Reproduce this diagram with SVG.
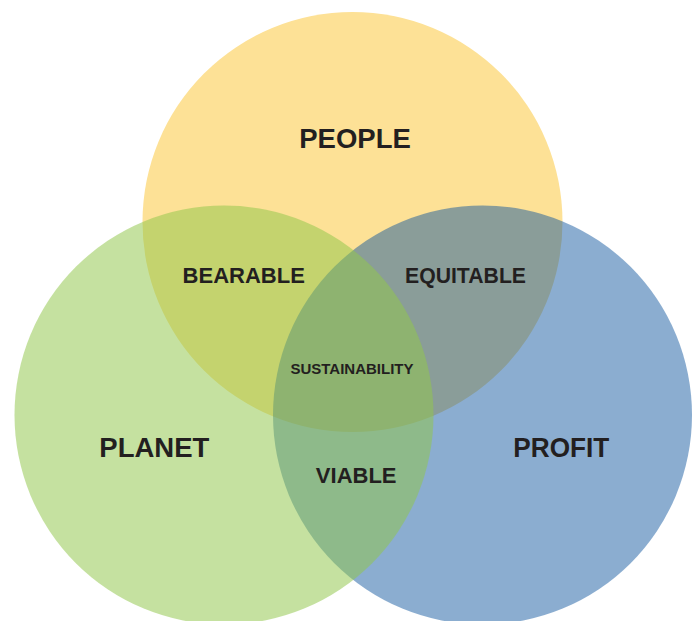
<svg xmlns="http://www.w3.org/2000/svg" width="699" height="621" viewBox="0 0 699 621">
<style>
text{font-family:"Liberation Sans",Arial,sans-serif;font-weight:bold;fill:#231f20;text-anchor:middle}
.big{font-size:27.5px}
.mid{font-size:22px}
.small{font-size:15px}
</style>
<rect width="699" height="621" fill="#ffffff"/>
<g id="people"><circle cx="352.5" cy="222" r="210" fill="#fde196"/></g>
<g id="profit"><circle cx="482.5" cy="415" r="209.5" fill="#0d549d" fill-opacity="0.48"/></g>
<g id="planet"><circle cx="224" cy="415" r="209.5" fill="#91c64b" fill-opacity="0.53"/></g>
<g id="connectors"></g>
<g id="labels">
<text class="big" x="355" y="148.3">PEOPLE</text>
<text class="big" x="154.3" y="457.3">PLANET</text>
<text class="big" x="561.3" y="457.3" textLength="96" lengthAdjust="spacingAndGlyphs">PROFIT</text>
<text class="mid" x="243.7" y="283.3">BEARABLE</text>
<text class="mid" x="465.5" y="283.3" textLength="121" lengthAdjust="spacingAndGlyphs">EQUITABLE</text>
<text class="small" x="352" y="374">SUSTAINABILITY</text>
<text class="mid" x="356.2" y="483">VIABLE</text>
</g>
</svg>
